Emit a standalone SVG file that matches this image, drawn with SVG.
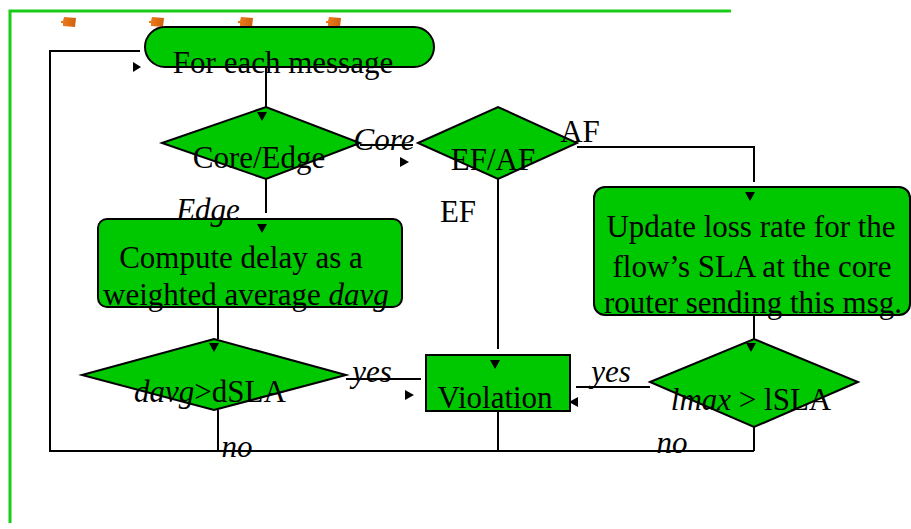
<svg xmlns="http://www.w3.org/2000/svg" width="911" height="529" viewBox="0 0 911 529">
<defs>
<linearGradient id="og" x1="0" y1="0" x2="1" y2="0">
<stop offset="0" stop-color="#f27d1e"/>
<stop offset="1" stop-color="#d0600f"/>
</linearGradient>
</defs>
<style>
.nd{fill:#00c800;stroke:#000;stroke-width:2}
.ln{fill:none;stroke:#000;stroke-width:2}
.ah{fill:#000}
.t{font-family:"Liberation Serif","Times New Roman",serif;font-size:31px;fill:#000}
.i{font-style:italic}
.fr{stroke:#18cc18;stroke-width:3;fill:none}
.bl{fill:url(#og)}
</style>
<rect width="911" height="529" fill="#fff"/>
<g id="frame">
<polyline class="fr" points="731,11 10,11 10,523"/>
<path class="bl" d="M64,17 L76,18 L75,27 L63,26 L63,23 L61,23 L61,21 L63,21 Z"/>
<path class="bl" d="M152,17 L164,18 L163,27 L151,26 L151,23 L149,23 L149,21 L151,21 Z"/>
<path class="bl" d="M241,17 L253,18 L252,27 L240,26 L240,23 L238,23 L238,21 L240,21 Z"/>
<path class="bl" d="M329,17 L341,18 L340,27 L328,26 L328,23 L326,23 L326,21 L328,21 Z"/>
</g>
<g id="connectors">
<polyline class="ln" points="140,51 50,51 50,451 754,451"/>
<polyline class="ln" points="266,67 266,107"/>
<polyline class="ln" points="266,179 266,213"/>
<polyline class="ln" points="218,307 218,339"/>
<polyline class="ln" points="360,145 413,145"/>
<polyline class="ln" points="577,147 754,147 754,182"/>
<polyline class="ln" points="498,179 498,349"/>
<polyline class="ln" points="346,379 421,379"/>
<polyline class="ln" points="650,387 576,387"/>
<polyline class="ln" points="754,315 754,339"/>
<polyline class="ln" points="218,410 218,451"/>
<polyline class="ln" points="498,411 498,451"/>
<polyline class="ln" points="754,427 754,451"/>
<path class="ah" d="M133,62 L141,67 L133,72 Z"/>
<path class="ah" d="M400,157 L409,162 L400,167 Z"/>
<path class="ah" d="M405,390 L414,395 L405,400 Z"/>
<path class="ah" d="M578,397 L569,402 L578,407 Z"/>
</g>
<g id="start">
<rect class="nd" x="145" y="27" width="289" height="40" rx="20"/>
<text class="t" x="283" y="73" text-anchor="middle">For each message</text>
</g>
<g id="coreedge">
<polygon class="nd" points="162,143 266,107 360,143 266,179"/>
<path class="ah" d="M257,112 L267,112 L262,121 Z"/>
<text class="t" x="259" y="168" text-anchor="middle">Core/Edge</text>
</g>
<g id="efaf">
<polygon class="nd" points="418,143 498,107 577,143 498,179"/>
<text class="t" x="493" y="170" text-anchor="middle">EF/AF</text>
</g>
<g id="compute">
<rect class="nd" x="98" y="219" width="304" height="88" rx="9"/>
<path class="ah" d="M257,224 L267,224 L262,233 Z"/>
<text class="t" x="241" y="268" text-anchor="middle">Compute delay as a</text>
<text class="t" x="246" y="305" text-anchor="middle">weighted average <tspan class="i">davg</tspan></text>
</g>
<g id="update">
<rect class="nd" x="594" y="187" width="316" height="128" rx="11"/>
<path class="ah" d="M745,192 L755,192 L750,201 Z"/>
<text class="t" x="751" y="237" text-anchor="middle">Update loss rate for the</text>
<text class="t" x="752" y="277" text-anchor="middle">flow’s SLA at the core</text>
<text class="t" x="753" y="313" text-anchor="middle">router sending this msg.</text>
</g>
<g id="davg">
<polygon class="nd" points="82,375 214,339 346,375 214,410"/>
<path class="ah" d="M209,343 L219,343 L214,352 Z"/>
<text class="t" x="210" y="402" text-anchor="middle"><tspan class="i">davg</tspan>&gt;dSLA</text>
</g>
<g id="violation">
<rect class="nd" x="426" y="355" width="144" height="56"/>
<path class="ah" d="M490,360 L500,360 L495,369 Z"/>
<text class="t" x="495" y="408" text-anchor="middle">Violation</text>
</g>
<g id="lmax">
<polygon class="nd" points="650,382 754,339 858,382 754,427"/>
<path class="ah" d="M746,343 L756,343 L751,352 Z"/>
<text class="t" x="751" y="410" text-anchor="middle"><tspan class="i">lmax</tspan> &gt; lSLA</text>
</g>
<g id="labels">
<text class="t i" x="384" y="150" text-anchor="middle">Core</text>
<text class="t" x="580" y="142" text-anchor="middle">AF</text>
<text class="t" x="458" y="222" text-anchor="middle">EF</text>
<text class="t i" x="208" y="220" text-anchor="middle">Edge</text>
<text class="t i" x="372" y="382" text-anchor="middle">yes</text>
<text class="t i" x="611" y="382" text-anchor="middle">yes</text>
<text class="t i" x="237" y="457" text-anchor="middle">no</text>
<text class="t i" x="672" y="453" text-anchor="middle">no</text>
</g>
</svg>
